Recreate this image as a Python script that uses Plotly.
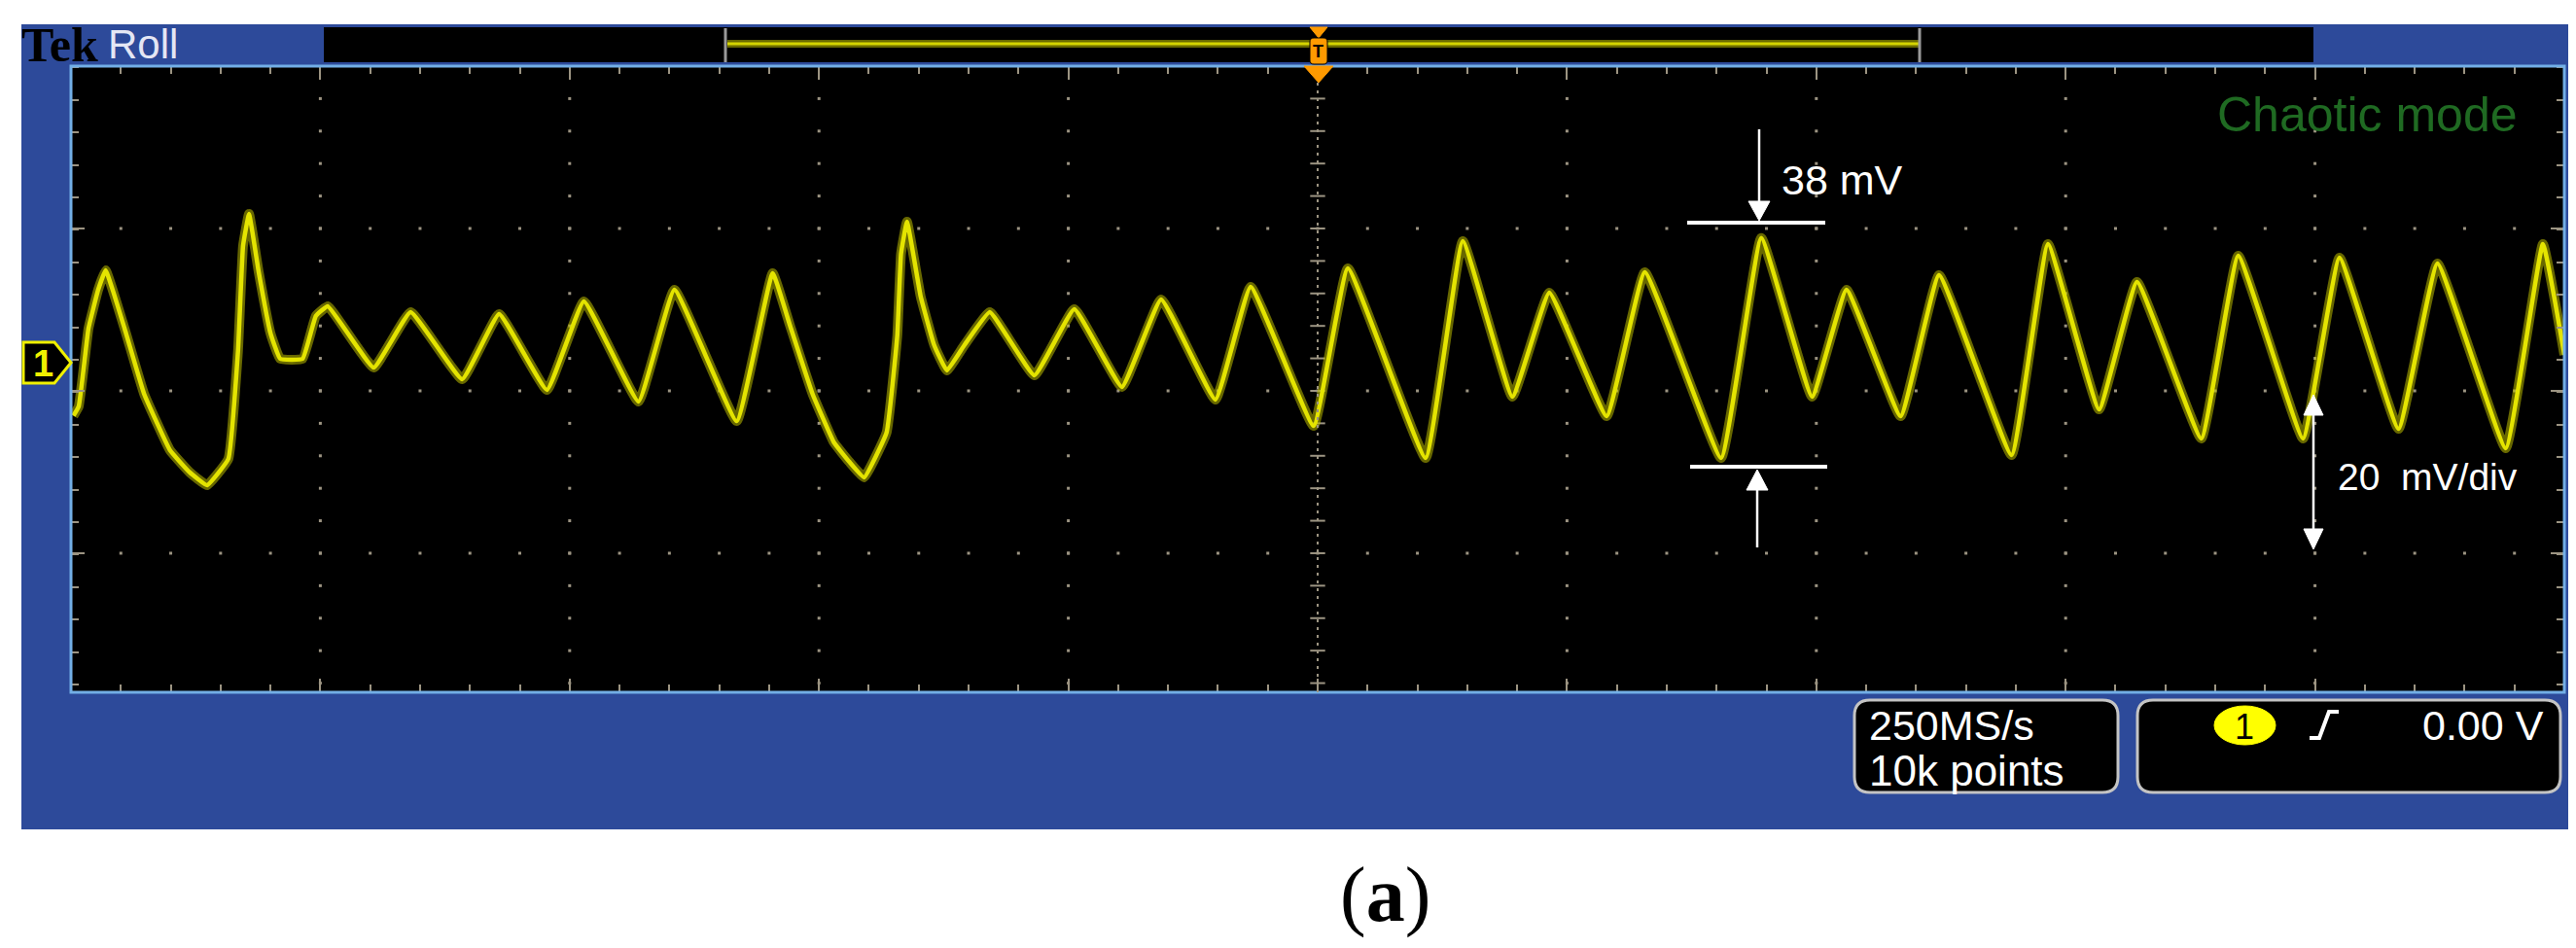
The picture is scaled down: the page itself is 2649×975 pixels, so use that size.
import numpy as np
import plotly.graph_objects as go

# ---------------- data (read from the screen capture) ----------------
# time in horizontal divisions (0..10), voltage in mV (20 mV/div, 0 mV at channel marker)
time_div = [0.01, 0.031, 0.070, 0.109, 0.139, 0.215, 0.293, 0.397, 0.475, 0.546,
            0.631, 0.670, 0.690, 0.714, 0.753, 0.800, 0.839, 0.929, 0.982, 1.030,
            1.214, 1.362, 1.569, 1.717, 1.909, 2.057, 2.276, 2.420, 2.670, 2.814,
            2.884, 2.974, 3.060, 3.122, 3.181, 3.271, 3.314, 3.329, 3.353, 3.408,
            3.462, 3.513, 3.583, 3.685, 3.864, 4.024, 4.215, 4.372, 4.590, 4.731,
            4.984, 5.121, 5.433, 5.582, 5.781, 5.929, 6.159, 6.312, 6.618, 6.779,
            6.983, 7.121, 7.338, 7.492, 7.783, 7.929, 8.134, 8.286, 8.544, 8.692,
            8.952, 9.098, 9.335, 9.491, 9.765, 9.914, 10.0]
volt_mV = [-6.89, -5.75, 3.83, 8.62, 11.02, 3.83, -4.19, -11.14, -13.83, -15.45,
           -12.22, 1.14, 14.01, 17.96, 10.78, 3.28, 0.12, 0.12, 5.39, 6.59,
           -0.96, 5.87, -2.40, 5.63, -3.71, 7.19, -5.15, 8.62, -7.55, 10.66,
           4.19, -4.19, -10.18, -12.58, -14.49, -8.98, 2.99, 13.05, 17.01, 7.78,
           1.80, -1.32, 1.80, 5.87, -1.92, 6.23, -3.35, 7.43, -4.91, 8.98,
           -8.15, 11.26, -12.10, 14.61, -4.55, 8.26, -6.95, 10.78, -12.10, 15.01,
           -4.55, 8.62, -6.95, 10.42, -11.74, 14.26, -6.11, 9.58, -9.70, 12.82,
           -9.70, 12.58, -8.51, 11.86, -10.90, 14.26, 0.60]

# screen / grid description
x_divs = 10
minor_per_div = 5
mv_per_div = 20
y_top_mV = 36.17
y_bottom_mV = -40.96

# ---------------- geometry helpers (pixel -> paper) ----------------
W, H = 2649, 975


def px(x):
    return x / W


def py(y):
    return 1 - y / H


def path(points, close=True):
    s = "M " + " L ".join(f"{px(a):.5f},{py(b):.5f}" for a, b in points)
    return s + (" Z" if close else "")


def rrect(x0, y0, x1, y1, r):
    P = lambda a, b: f"{px(a):.5f},{py(b):.5f}"
    return (f"M {P(x0 + r, y0)} L {P(x1 - r, y0)} Q {P(x1, y0)} {P(x1, y0 + r)} "
            f"L {P(x1, y1 - r)} Q {P(x1, y1)} {P(x1 - r, y1)} L {P(x0 + r, y1)} "
            f"Q {P(x0, y1)} {P(x0, y1 - r)} L {P(x0, y0 + r)} Q {P(x0, y0)} {P(x0 + r, y0)} Z")


BLUE = "#2d4a9a"
GRID = "#9c9482"
TRACE = "#e4e400"
WHITE = "white"

fig = go.Figure()

# ---------------- grid dots ----------------
minor_x = np.round(np.arange(0, x_divs + 1e-9, 1 / minor_per_div), 4)
major_x = np.arange(1, x_divs)
major_y = np.array([y_top_mV - mv_per_div * k for k in range(1, 4)])
minor_step_y = mv_per_div / minor_per_div
minor_y = np.array([y_top_mV - minor_step_y * k for k in range(1, 20)
                    if y_top_mV - minor_step_y * k > y_bottom_mV])

gx, gy = [], []
for xv in major_x:
    if xv == x_divs / 2:
        continue
    for yv in minor_y:
        gx.append(xv); gy.append(yv)
for yv in major_y:
    for xv in minor_x[1:-1]:
        gx.append(xv); gy.append(yv)
fig.add_trace(go.Scatter(x=gx, y=gy, mode="markers",
                         marker=dict(size=3, color=GRID, symbol="square"),
                         hoverinfo="skip", showlegend=False))
# centre graticule line with cross ticks
fig.add_trace(go.Scatter(x=[x_divs / 2] * len(minor_y), y=minor_y, mode="markers",
                         marker=dict(size=11, symbol="line-ew",
                                     line=dict(color=GRID, width=2)),
                         hoverinfo="skip", showlegend=False))

# ---------------- waveform ----------------
fig.add_trace(go.Scatter(x=time_div, y=volt_mV, mode="lines",
                         line=dict(color="rgba(190,190,0,0.55)", width=10, shape="spline", smoothing=0.3),
                         hoverinfo="skip", showlegend=False))
fig.add_trace(go.Scatter(x=time_div, y=volt_mV, mode="lines",
                         line=dict(color=TRACE, width=4.5, shape="spline", smoothing=0.3),
                         hoverinfo="skip", showlegend=False))

# ---------------- shapes ----------------
shapes = []
# instrument frame
shapes.append(dict(type="rect", xref="paper", yref="paper", layer="below",
                   x0=px(14), x1=px(2634), y0=py(845), y1=py(17),
                   fillcolor=BLUE, line=dict(width=0)))
# black graticule area
shapes.append(dict(type="rect", xref="paper", yref="paper", layer="below",
                   x0=px(65), x1=px(2629), y0=py(704), y1=py(60),
                   fillcolor="black", line=dict(width=0)))
# top record bar
shapes.append(dict(type="rect", xref="paper", yref="paper", layer="below",
                   x0=px(325), x1=px(2371), y0=py(56), y1=py(20),
                   fillcolor="black", line=dict(width=0)))
# graticule border
shapes.append(dict(type="rect", xref="paper", yref="paper",
                   x0=px(65), x1=px(2629), y0=py(704), y1=py(60),
                   line=dict(color="#72aee6", width=3)))
# centre vertical dashed line
shapes.append(dict(type="line", xref="x", yref="paper", x0=x_divs / 2, x1=x_divs / 2,
                   y0=py(704), y1=py(60), line=dict(color=GRID, width=2, dash="3px,5px")))
# record bar bracket
shapes.append(dict(type="line", xref="paper", yref="paper", x0=px(740), x1=px(1965),
                   y0=py(37), y1=py(37), line=dict(color="#6a6a00", width=8)))
shapes.append(dict(type="line", xref="paper", yref="paper", x0=px(740), x1=px(1965),
                   y0=py(37), y1=py(37), line=dict(color="#d4d400", width=3)))
for xb in (738, 1966):
    shapes.append(dict(type="line", xref="paper", yref="paper", x0=px(xb), x1=px(xb),
                       y0=py(21), y1=py(56), line=dict(color="#9a9a9a", width=3)))
# trigger marker
ORANGE = "#ff9a00"
shapes.append(dict(type="path", xref="paper", yref="paper",
                   path=path([(1339, 20), (1357, 20), (1348, 31)]),
                   fillcolor=ORANGE, line=dict(color=ORANGE, width=1)))
shapes.append(dict(type="path", xref="paper", yref="paper",
                   path=rrect(1339, 31, 1357, 58, 4),
                   fillcolor=ORANGE, line=dict(color="black", width=1)))
shapes.append(dict(type="path", xref="paper", yref="paper",
                   path=path([(1333, 60), (1363, 60), (1348, 77)]),
                   fillcolor=ORANGE, line=dict(color=ORANGE, width=1)))
# channel 1 marker
shapes.append(dict(type="path", xref="paper", yref="paper",
                   path=path([(16, 344), (48, 344), (65, 365), (48, 386), (16, 386)]),
                   fillcolor="black", line=dict(color="#f0f000", width=3)))
# 38 mV marker
shapes += [
    dict(type="line", xref="paper", yref="paper", x0=px(1801), x1=px(1801), y0=py(125), y1=py(205),
         line=dict(color=WHITE, width=2.5)),
    dict(type="path", xref="paper", yref="paper", path=path([(1790, 199), (1812, 199), (1801, 219)]),
         fillcolor=WHITE, line=dict(color=WHITE, width=1)),
    dict(type="line", xref="paper", yref="paper", x0=px(1727), x1=px(1869), y0=py(221), y1=py(221),
         line=dict(color=WHITE, width=4)),
    dict(type="line", xref="paper", yref="paper", x0=px(1730), x1=px(1871), y0=py(472), y1=py(472),
         line=dict(color=WHITE, width=4)),
    dict(type="path", xref="paper", yref="paper", path=path([(1799, 475), (1788, 496), (1810, 496)]),
         fillcolor=WHITE, line=dict(color=WHITE, width=1)),
    dict(type="line", xref="paper", yref="paper", x0=px(1799), x1=px(1799), y0=py(490), y1=py(555),
         line=dict(color=WHITE, width=2.5)),
]
# 20 mV/div marker
shapes += [
    dict(type="line", xref="paper", yref="paper", x0=px(2371), x1=px(2371), y0=py(412), y1=py(543),
         line=dict(color=WHITE, width=2.5)),
    dict(type="path", xref="paper", yref="paper", path=path([(2371, 398), (2361, 419), (2381, 419)]),
         fillcolor=WHITE, line=dict(color=WHITE, width=1)),
    dict(type="path", xref="paper", yref="paper", path=path([(2371, 557), (2361, 536), (2381, 536)]),
         fillcolor=WHITE, line=dict(color=WHITE, width=1)),
]
# bottom readout boxes
shapes.append(dict(type="path", xref="paper", yref="paper", path=rrect(1899, 712, 2170, 807, 16),
                   fillcolor="black", line=dict(color="#c4c4c4", width=3)))
shapes.append(dict(type="path", xref="paper", yref="paper", path=rrect(2190, 712, 2625, 807, 16),
                   fillcolor="black", line=dict(color="#c4c4c4", width=3)))
shapes.append(dict(type="circle", xref="paper", yref="paper",
                   x0=px(2269), x1=px(2332), y0=py(758), y1=py(718),
                   fillcolor="#ffff00", line=dict(color="#ffff00", width=1)))
shapes.append(dict(type="path", xref="paper", yref="paper",
                   path=path([(2367, 751), (2377, 751), (2387, 724), (2397, 724)], close=False),
                   line=dict(color=WHITE, width=4)))

# ---------------- texts ----------------
SANS = "Liberation Sans, Arial, sans-serif"
SERIF = "Liberation Serif, Times New Roman, serif"
ann = []


def text(t, x, y, size, color, anchor="left", family=SANS, **kw):
    ann.append(dict(text=t, x=px(x), y=py(y), xref="paper", yref="paper", showarrow=False,
                    xanchor=anchor, yanchor="middle", font=dict(size=size, color=color, family=family), **kw))


text("<b>Tek</b>", 12, 38, 50, "black", family=SERIF)
text("Roll", 101, 38, 42, "#e4e6f4")
text("<b>T</b>", 1348, 45, 18, "black", anchor="center")
text("<b>1</b>", 36, 366, 38, "#f0f000", anchor="center")
text("Chaotic mode", 2583, 110, 50, "#1f6a22", anchor="right")
text("38 mV", 1822, 177, 43, WHITE)
text("20\u00a0 mV/div", 2394, 483, 39, WHITE)
text("250MS/s", 1912, 738, 43, WHITE)
text("10k points", 1912, 784, 44, WHITE)
text("1", 2300, 739, 36, "black", anchor="center")
text("0.00 V", 2610, 738, 43, WHITE, anchor="right")
text("(<b>a</b>)", 1416, 912, 80, "black", anchor="center", family=SERIF)

# ---------------- layout ----------------
tick_common = dict(showgrid=False, zeroline=False, showticklabels=False, showline=False,
                   ticks="inside", tickwidth=2, tickcolor=GRID, mirror="ticks", fixedrange=True)
fig.update_layout(
    width=W, height=H, margin=dict(l=0, r=0, t=0, b=0),
    paper_bgcolor="white", plot_bgcolor="rgba(0,0,0,0)",
    showlegend=False, shapes=shapes, annotations=ann,
    xaxis=dict(range=[0, x_divs], domain=[px(65), px(2629)], tickmode="linear", tick0=0, dtick=1,
               ticklen=14, minor=dict(ticks="inside", dtick=1 / minor_per_div, ticklen=8,
                                      tickwidth=2, tickcolor=GRID, showgrid=False),
               **tick_common),
    yaxis=dict(range=[y_bottom_mV, y_top_mV], domain=[py(704), py(60)], tickmode="linear",
               tick0=y_top_mV, dtick=mv_per_div, ticklen=14,
               minor=dict(ticks="inside", dtick=mv_per_div / minor_per_div, ticklen=8,
                          tickwidth=2, tickcolor=GRID, showgrid=False),
               **tick_common),
)

fig.write_html("out.html")
